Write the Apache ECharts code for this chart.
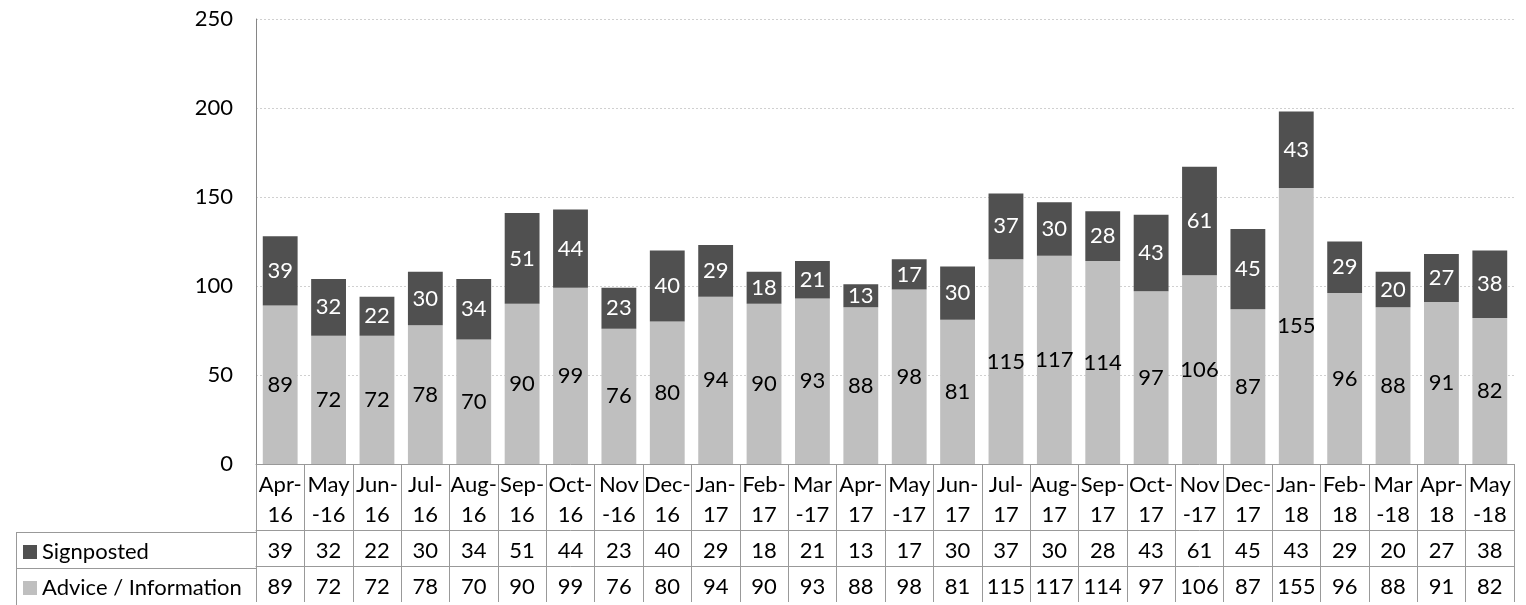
<!DOCTYPE html>
<html>
<head>
<meta charset="utf-8">
<script src="https://cdn.jsdelivr.net/npm/echarts@6/dist/echarts.min.js"></script>
<style>
    html, body { margin: 0; padding: 0; background: #fff; }
    #chart { width: 1526px; height: 605px; }
</style>
</head>
<body>
<div id="chart"></div>
<script>
// months shown in the data table header
const months = ['Apr-16', 'May-16', 'Jun-16', 'Jul-16', 'Aug-16', 'Sep-16', 'Oct-16', 'Nov-16', 'Dec-16',
    'Jan-17', 'Feb-17', 'Mar-17', 'Apr-17', 'May-17', 'Jun-17', 'Jul-17', 'Aug-17', 'Sep-17', 'Oct-17',
    'Nov-17', 'Dec-17', 'Jan-18', 'Feb-18', 'Mar-18', 'Apr-18', 'May-18'];
const signposted = [39, 32, 22, 30, 34, 51, 44, 23, 40, 29, 18, 21, 13, 17, 30, 37, 30, 28, 43, 61, 45, 43, 29, 20, 27, 38];
const advice = [89, 72, 72, 78, 70, 90, 99, 76, 80, 94, 90, 93, 88, 98, 81, 115, 117, 114, 97, 106, 87, 155, 96, 88, 91, 82];
const yTicks = [0, 50, 100, 150, 200, 250];

const FONT = 'Lato';
const TXT = '#000';
const LINE = '#999';
const DARK = '#505050';
const LIGHT = '#bfbfbf';

// Excel wraps the wide month names before the dash
const wideMonths = ['May', 'Nov', 'Mar'];
function wrapMonth(s) {
    const m = s.slice(0, 3);
    return wideMonths.includes(m) ? m + '\n' + s.slice(3) : s.slice(0, 4) + '\n' + s.slice(4);
}

const chart = echarts.init(document.getElementById('chart'));

// one x axis per table row, stacked downward with offset
const tableAxis = (data, offset, tickLen, lineHeight, margin) => ({
    type: 'category',
    data: data,
    position: 'bottom',
    offset: offset,
    boundaryGap: true,
    axisLine: { show: true, lineStyle: { color: LINE, width: 1 } },
    axisTick: { show: true, interval: 0, length: tickLen, lineStyle: { color: LINE, width: 1 } },
    axisLabel: {
        interval: 0, margin: margin, fontFamily: FONT, fontSize: 22, color: TXT,
        lineHeight: lineHeight
    },
    splitLine: { show: false }
});

let xAxes = [
    tableAxis(months, 0, 66, 30, 6),
    tableAxis(signposted.map(String), 66, 36, 36, 3),
    tableAxis(advice.map(String), 102, 36, 36, 3)
];
xAxes[0].axisLabel.formatter = wrapMonth;

const option = {
    animation: false,
    grid: { left: 256, right: 12, top: 19, bottom: 139 },
    legend: [
        {
            data: ['Signposted'], left: 23, top: 541, padding: 0,
            itemWidth: 14, itemHeight: 14, icon: 'rect', selectedMode: false,
            textStyle: { fontFamily: FONT, fontSize: 22, color: TXT, lineHeight: 22 }
        },
        {
            data: ['Advice / Information'], left: 23, top: 577, padding: 0,
            itemWidth: 14, itemHeight: 14, icon: 'rect', selectedMode: false,
            textStyle: { fontFamily: FONT, fontSize: 22, color: TXT, lineHeight: 22 }
        }
    ],
    xAxis: xAxes,
    yAxis: {
        type: 'value',
        min: yTicks[0],
        max: yTicks[yTicks.length - 1],
        interval: 50,
        axisLine: { show: true, lineStyle: { color: '#868686' } },
        axisTick: { show: false },
        axisLabel: { margin: 23, fontFamily: FONT, fontSize: 22, color: TXT },
        splitLine: { show: true, lineStyle: { color: '#d0d0d0', type: [2, 2] } }
    },
    // left part of the data table (row headers)
    graphic: [
        { type: 'line', shape: { x1: 16, y1: 532.5, x2: 256, y2: 532.5 }, style: { stroke: LINE, lineWidth: 1 } },
        { type: 'line', shape: { x1: 16, y1: 568.5, x2: 256, y2: 568.5 }, style: { stroke: LINE, lineWidth: 1 } },
        { type: 'line', shape: { x1: 16.5, y1: 532, x2: 16.5, y2: 605 }, style: { stroke: LINE, lineWidth: 1 } }
    ],
    series: [
        {
            name: 'Advice / Information',
            type: 'bar',
            stack: 'total',
            data: advice,
            barCategoryGap: '28%',
            itemStyle: { color: LIGHT },
            label: { show: true, position: 'inside', fontFamily: FONT, fontSize: 22, color: '#000' }
        },
        {
            name: 'Signposted',
            type: 'bar',
            stack: 'total',
            data: signposted,
            barCategoryGap: '28%',
            itemStyle: { color: DARK },
            label: { show: true, position: 'inside', fontFamily: FONT, fontSize: 22, color: '#fff' }
        }
    ]
};

chart.setOption(option);
</script>
</body>
</html>
